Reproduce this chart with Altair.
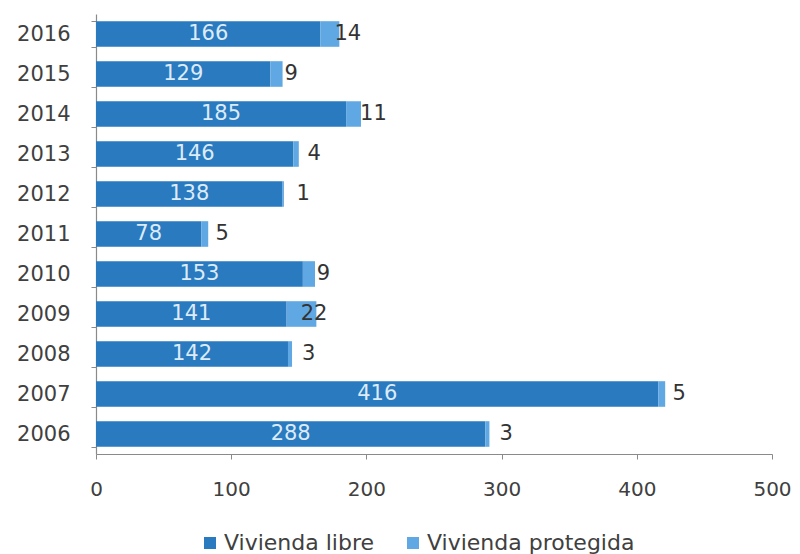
import altair as alt
import pandas as pd

years = ["2016", "2015", "2014", "2013", "2012", "2011", "2010", "2009", "2008", "2007", "2006"]
libre = [166, 129, 185, 146, 138, 78, 153, 141, 142, 416, 288]
protegida = [14, 9, 11, 4, 1, 5, 9, 22, 3, 5, 3]
series = ["Vivienda libre", "Vivienda protegida"]
colors = ["#2a7abf", "#5fa8e3"]
x_ticks = [0, 100, 200, 300, 400, 500]

wide = pd.DataFrame({"year": years, "libre": libre, "protegida": protegida})
long = pd.DataFrame({
    "year": years * 2,
    "serie": [series[0]] * len(years) + [series[1]] * len(years),
    "valor": libre + protegida,
    "orden": [0] * len(years) + [1] * len(years),
})

font = "DejaVu Sans"

y_enc = alt.Y(
    "year:N", sort=years, title=None,
    scale=alt.Scale(paddingInner=0.36, paddingOuter=0.18),
    axis=alt.Axis(tickBand="extent", domainColor="#8a8a8a", tickColor="#8a8a8a",
                  tickSize=5, labelPadding=21, labelFont=font, labelFontSize=21,
                  labelColor="#404040", domainWidth=1.2),
)

bars = alt.Chart(long).mark_bar().encode(
    y=y_enc,
    x=alt.X("valor:Q", stack="zero", title=None,
            scale=alt.Scale(domain=[0, 500], nice=False),
            axis=alt.Axis(values=x_ticks, grid=False, domainColor="#8a8a8a",
                          tickColor="#8a8a8a", tickSize=5, labelPadding=20,
                          labelFlush=False,
                          labelFont=font, labelFontSize=20, labelColor="#404040",
                          domainWidth=1.2)),
    color=alt.Color("serie:N", scale=alt.Scale(domain=series, range=colors),
                    legend=alt.Legend(title=None, orient="none", direction="horizontal",
                                      legendX=103, legendY=518, symbolType="square",
                                      symbolSize=144, symbolStrokeWidth=0,
                                      labelFont=font, labelFontSize=22,
                                      labelColor="#404040", labelOffset=3,
                                      labelLimit=400,
                                      columnPadding=27, padding=0)),
    order=alt.Order("orden:Q"),
)

inside = alt.Chart(wide).transform_calculate(mid="datum.libre / 2").mark_text(
    font=font, fontSize=21, color="#dcebf8", baseline="middle"
).encode(y=y_enc, x=alt.X("mid:Q"), text="libre:Q")

outside = alt.Chart(wide).mark_text(
    font=font, fontSize=21, color="#333333", align="left", dx=14, baseline="middle"
).encode(y=y_enc, x=alt.X("libre:Q"), text="protegida:Q")

chart = alt.layer(bars, inside, outside).properties(
    width=676, height=440,
    autosize=alt.AutoSizeParams(type="none"),
    padding={"left": 88, "top": 6, "right": 20, "bottom": 100},
).configure(background="white", view=alt.ViewConfig(stroke=None))

chart.save("out.html", embed_options={"renderer": "svg", "actions": False})
